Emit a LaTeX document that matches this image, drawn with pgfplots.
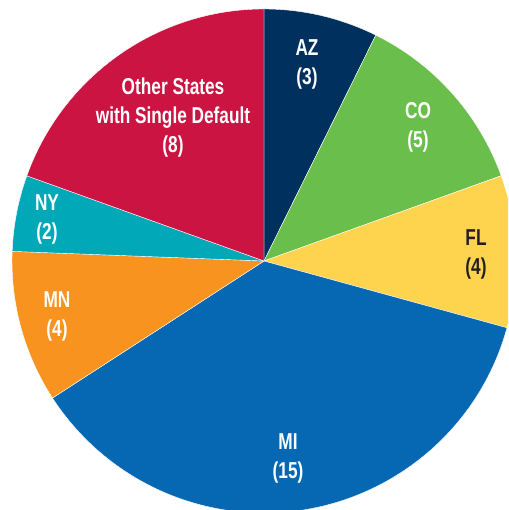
\documentclass[border=0pt]{standalone}
\usepackage{pgfplots}
\usepackage{pgfplotstable}
\pgfplotsset{compat=1.18}
\usepackage{fontspec}
\setmainfont{Liberation Sans}[FakeStretch=0.75]
\definecolor{cAZ}{RGB}{0,48,94}
\definecolor{cCO}{RGB}{106,190,75}
\definecolor{cFL}{RGB}{254,212,78}
\definecolor{cMI}{RGB}{6,104,178}
\definecolor{cMN}{RGB}{247,147,30}
\definecolor{cNY}{RGB}{0,168,184}
\definecolor{cOT}{RGB}{204,20,67}
\definecolor{cDark}{RGB}{35,31,32}

\pgfplotstableread{
label value color
AZ 3 cAZ
CO 5 cCO
FL 4 cFL
MI 15 cMI
MN 4 cMN
NY 2 cNY
Other 8 cOT
}\piedata

\begin{document}
\begin{tikzpicture}
\useasboundingbox (0,0) rectangle (508pt,510pt);
\begin{axis}[at={(0,0)},anchor=south west,x=1pt,y=1pt,
  xmin=0,xmax=508,ymin=0,ymax=510,hide axis,clip=true,
  disabledatascaling]
\pgfplotstablegetrowsof{\piedata}
\pgfmathtruncatemacro{\N}{\pgfplotsretval-1}
\def\total{41}
\def\cum{0}
\pgfplotsforeachungrouped \i in {0,...,\N}{%
  \pgfplotstablegetelem{\i}{value}\of\piedata \let\val\pgfplotsretval
  \pgfplotstablegetelem{\i}{color}\of\piedata \let\col\pgfplotsretval
  \pgfmathsetmacro{\a}{90-\cum/\total*360}%
  \pgfmathsetmacro{\b}{90-(\cum+\val)/\total*360}%
  \pgfmathsetmacro{\sx}{264+252*cos(\a)}%
  \pgfmathsetmacro{\sy}{249+252*sin(\a)}%
  \edef\temp{\noexpand\fill[\col,draw=white,line width=0.4pt] (axis cs:264,249) -- (axis cs:\sx,\sy) arc[start angle=\a,end angle=\b,radius=252pt] -- cycle;}%
  \temp
  \pgfmathsetmacro{\cum}{\cum+\val}%
}
\tikzset{lab/.style={font=\fontsize{23}{29}\selectfont\bfseries,align=center,text=white,inner sep=0pt}}
\node[lab] at (axis cs:307,446) {AZ\\(3)};
\node[lab] at (axis cs:418,383) {CO\\(5)};
\node[lab,text=cDark] at (axis cs:476,256) {FL\\(4)};
\node[lab] at (axis cs:288,52) {MI\\(15)};
\node[lab] at (axis cs:57,194) {MN\\(4)};
\node[lab] at (axis cs:47,291) {NY\\(2)};
\node[lab] at (axis cs:173,392) {Other States\\with Single Default\\(8)};
\end{axis}
\end{tikzpicture}
\end{document}
